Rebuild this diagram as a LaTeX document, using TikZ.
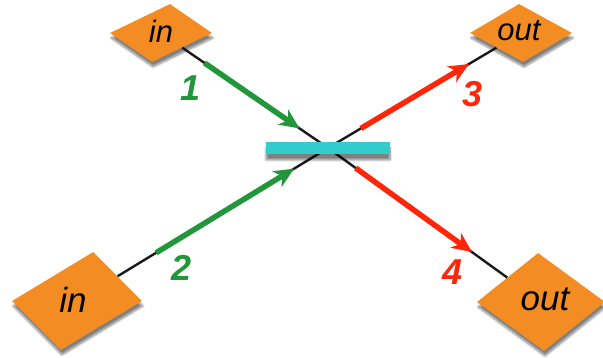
\documentclass[tikz,border=0pt]{standalone}
\usepackage{fontspec}
\setmainfont{Liberation Sans}
\usetikzlibrary{shapes.geometric, arrows.meta, calc, shadows.blur}
\definecolor{padorange}{RGB}{243,141,35}
\definecolor{ingreen}{RGB}{34,150,58}
\definecolor{outred}{RGB}{255,38,10}
\definecolor{barcyan}{RGB}{51,204,204}
\tikzset{
  pad/.style   ={diamond, fill=padorange, inner sep=0pt, transform shape,
                 blur shadow={shadow xshift=1pt, shadow yshift=-5pt,
                 shadow blur steps=10, shadow opacity=50}},
  padsm/.style ={pad, minimum width=102pt, minimum height=58pt},
  padlg/.style ={pad, minimum width=130pt, minimum height=98pt},
  lbl/.style   ={font=\itshape\fontsize{31}{31}\selectfont},
  lbllg/.style ={font=\itshape\fontsize{35}{35}\selectfont},
  num/.style   ={font=\bfseries\itshape\fontsize{36}{36}\selectfont},
  wire/.style  ={line width=2.4pt, black!90},
  flow/.style  ={line width=5.5pt, -{Stealth[length=20pt, width=18pt, inset=6pt]}},
  splitter/.style={rectangle, fill=barcyan, minimum width=124pt, minimum height=12pt,
                 inner sep=0pt, blur shadow={shadow xshift=0pt, shadow yshift=-6pt,
                 shadow blur steps=10, shadow opacity=50}},
}
\begin{document}
\begin{tikzpicture}[x=1pt, y=1pt]
\useasboundingbox (0,0) rectangle (603,358);
\node[padsm, xslant=0.31] (inA) at (161,325) {};
\node[padsm, xslant=-0.07] (outA) at (521,325) {};
\node[padlg, xslant=0.33] (inB) at (77,57) {};
\node[padlg, minimum width=128pt, xslant=-0.06] (outB) at (541,56) {};
\node[lbl] (inAtxt) at (161,327) {in};
\node[lbl] (outAtxt) at (519,327) {out};
\node[lbllg] (inBtxt) at (73,58) {in};
\node[lbllg] (outBtxt) at (545,59) {out};
\coordinate (x) at (328,210);
\draw[wire] (inA) -- (x);
\draw[wire] (inB) -- (x);
\draw[wire] (x) -- (outA);
\draw[wire] (x) -- (outB);
\draw[flow, ingreen] ($(inA)!0.26!(x)$) -- ($(inA)!0.83!(x)$);
\draw[flow, ingreen] ($(inB)!0.315!(x)$) -- ($(inB)!0.865!(x)$);
\draw[flow, outred] ($(x)!0.17!(outA)$) -- ($(x)!0.73!(outA)$);
\draw[flow, outred] ($(x)!0.13!(outB)$) -- ($(x)!0.676!(outB)$);
\node[splitter] (bar) at (x) {};
\node[num, ingreen] (n1) at (191,270) {1};
\node[num, ingreen] (n2) at (182,90) {2};
\node[num, outred] (n3) at (473,264) {3};
\node[num, outred] (n4) at (453,86) {4};
\end{tikzpicture}
\end{document}
